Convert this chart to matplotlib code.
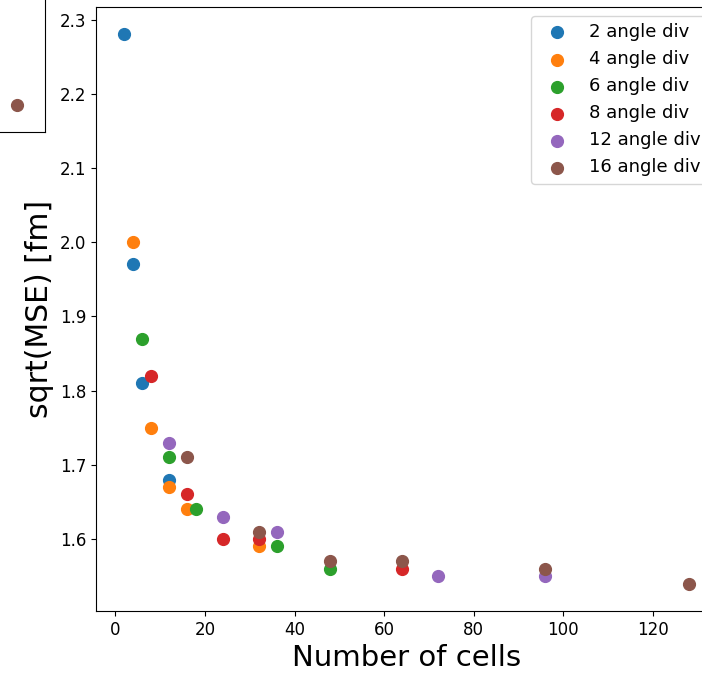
import matplotlib
matplotlib.use("Agg")
import matplotlib.pyplot as plt

# dados: número de células vs sqrt(MSE)
labels = ["2 angle div", "4 angle div", "6 angle div",
          "8 angle div", "12 angle div", "16 angle div"]

cells_2 = [2, 4, 6, 12]
mse_2 = [2.28, 1.97, 1.81, 1.68]

cells_4 = [4, 8, 12, 16, 32]
mse_4 = [2.00, 1.75, 1.67, 1.64, 1.59]

cells_6 = [6, 12, 18, 36, 48]
mse_6 = [1.87, 1.71, 1.64, 1.59, 1.56]

cells_8 = [8, 16, 24, 32, 64]
mse_8 = [1.82, 1.66, 1.60, 1.60, 1.56]

cells_12 = [12, 24, 36, 72, 96]
mse_12 = [1.73, 1.63, 1.61, 1.55, 1.55]

cells_16 = [16, 32, 48, 64, 96, 128]
mse_16 = [1.71, 1.61, 1.57, 1.57, 1.56, 1.54]

# fragmento do painel vizinho (só um ponto visível)
side_x = [0.7]
side_y = [0.1]

series = [(cells_2, mse_2), (cells_4, mse_4), (cells_6, mse_6),
          (cells_8, mse_8), (cells_12, mse_12), (cells_16, mse_16)]

fig = plt.figure(figsize=(7.02, 6.77), dpi=100)

# eixo principal (a figura original está cortada à direita)
ax = fig.add_axes([0.1368, 0.0975, 0.8846, 0.8922])
for (x, y), lab in zip(series, labels):
    ax.scatter(x, y, s=72, label=lab)

ax.set_xlabel("Number of cells", fontsize=21)
ax.set_ylabel("sqrt(MSE) [fm]", fontsize=21.5)
ax.tick_params(labelsize=12)
ax.legend(loc="upper right", fontsize=13)

# pedaço do painel da esquerda
side = fig.add_axes([-0.2, 1 - 132 / 677, 0.2 + 45 / 702, 0.4])
side.scatter(side_x, side_y, s=72, color="tab:brown")
side.set_xlim(-1, 1)
side.set_ylim(0, 1)
side.set_xticks([])
side.set_yticks([])

fig.savefig("out.png", dpi=100)
